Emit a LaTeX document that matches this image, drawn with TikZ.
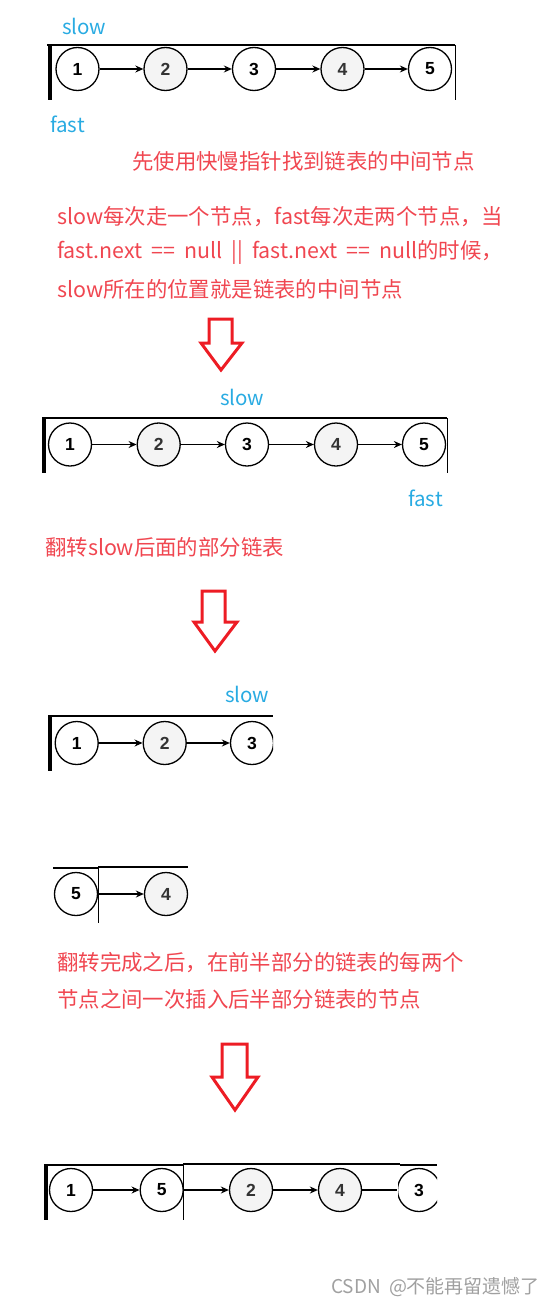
\documentclass[tikz,border=0pt]{standalone}
\usepackage{fontspec}
\setmainfont[WordSpace=1.9]{Noto Sans CJK SC}
\newfontfamily\numfont{Liberation Sans}
\usetikzlibrary{arrows.meta}
\definecolor{slowblue}{HTML}{29ABE2}
\definecolor{notered}{HTML}{F04650}
\definecolor{arrowred}{HTML}{ED1C24}
\definecolor{nodegray}{HTML}{F4F4F4}
\definecolor{marktext}{HTML}{A0A0A0}
\begin{document}
\begin{tikzpicture}[x=1pt,y=-1pt,
  lnode/.style={circle, draw=black, line width=1.3pt, minimum size=43pt, inner sep=0pt,
    font=\numfont\bfseries\fontsize{17.5}{17.5}\selectfont, fill=white},
  gnode/.style={lnode, fill=nodegray, text=black!80},
  link/.style={-{Stealth[length=8pt,width=7pt]}, line width=1.2pt},
  plainlink/.style={line width=1.2pt},
  frameline/.style={line width=1.6pt},
  thinline/.style={line width=0.9pt},
  barline/.style={line width=4pt},
  ptr/.style={text=slowblue, font=\fontsize{20.5}{20.5}\selectfont, inner sep=0pt, anchor=west},
  note/.style={text=notered, font=\fontsize{21.4}{21.4}\selectfont, inner sep=0pt, anchor=west},
  bigarrow/.style={draw=arrowred, line width=3pt, line join=miter},
  wmark/.style={text=marktext, font=\fontsize{19}{19}\selectfont, inner sep=0pt, anchor=west}
]
\useasboundingbox (0,0) rectangle (554,1306);

% ---------- Row 1 ----------
\node[ptr] (slowA) at (62,26) {slow};
\draw[frameline] (47,45) -- (455,45);
\draw[barline] (50,45) -- (50,100);
\draw[thinline] (455,45) -- (455,100);
\node[lnode] (a1) at (77.5,69) {1};
\node[gnode] (a2) at (165.5,69) {2};
\node[lnode] (a3) at (254,69) {3};
\node[gnode] (a4) at (342.5,69) {4};
\node[lnode] (a5) at (430,69) {5};
\draw[link] (a1) -- (a2);
\draw[link] (a2) -- (a3);
\draw[link] (a3) -- (a4);
\draw[link] (a4) -- (a5);
\node[ptr] (fastA) at (50,124) {fast};

\node[note] (t1) at (132,161) {先使用快慢指针找到链表的中间节点};
\node[note] (t2) at (57,216.5) {slow每次走一个节点，fast每次走两个节点，当};
\node[note] (t3) at (57,252.5) {fast.next == null || fast.next == null的时候，};
\node[note] (t4) at (57,289) {slow所在的位置就是链表的中间节点};

\draw[bigarrow] (209,319) -- (232,319) -- (232,343) -- (242,343) -- (221,370)
  -- (201,343) -- (209,343) -- cycle;

% ---------- Row 2 ----------
\node[ptr] (slowB) at (220,397) {slow};
\draw[frameline] (42,418) -- (447,418);
\draw[barline] (44,418) -- (44,473);
\draw[thinline] (447,418) -- (447,473);
\node[lnode] (b1) at (70,444.5) {1};
\node[gnode] (b2) at (158.7,444.5) {2};
\node[lnode] (b3) at (247,444.5) {3};
\node[gnode] (b4) at (336,444.5) {4};
\node[lnode] (b5) at (424,444.5) {5};
\draw[link] (b1) -- (b2);
\draw[link] (b2) -- (b3);
\draw[link] (b3) -- (b4);
\draw[link] (b4) -- (b5);
\node[ptr] (fastB) at (408,498) {fast};

\node[note] (t5) at (45,547) {翻转slow后面的部分链表};

\draw[bigarrow] (202,591) -- (225,591) -- (225,622) -- (237,622) -- (215,651)
  -- (194,622) -- (202,622) -- cycle;

% ---------- Row 3 ----------
\node[ptr] (slowC) at (225,694) {slow};
\draw[frameline] (48,716) -- (273,716);
\draw[barline] (50,716) -- (50,771);
\node[lnode] (c1) at (76.7,743) {1};
\node[gnode] (c2) at (164.7,743) {2};
\begin{scope}
  \clip (200,700) rectangle (273,790);
  \node[lnode] (c3) at (252,743) {3};
\end{scope}
\draw[link] (c1) -- (c2);
\draw[link] (c2) -- (c3);

% ---------- Row 4 ----------
\draw[frameline] (53,868) -- (98,868);
\draw[frameline] (98,867) -- (188,867);
\node[lnode] (d5) at (76,894) {5};
\begin{scope}
  \clip (120,850) rectangle (188,940);
  \node[gnode] (d4) at (166,894) {4};
\end{scope}
\draw[thinline] (98,867) -- (98,923);
\draw[link] (d5) -- (d4);

\node[note] (t6) at (57,962.5) {翻转完成之后，在前半部分的链表的每两个};
\node[note] (t7) at (57,999) {节点之间一次插入后半部分链表的节点};

\draw[bigarrow] (222,1044) -- (247,1044) -- (247,1077) -- (258,1077) -- (235,1110)
  -- (212,1077) -- (222,1077) -- cycle;

% ---------- Row 5 ----------
\draw[frameline] (44,1165) -- (183,1165);
\draw[frameline] (183,1164) -- (400,1164);
\draw[frameline] (400,1165) -- (437,1165);
\draw[barline] (46,1165) -- (46,1220);
\node[lnode] (e1) at (71,1190) {1};
\begin{scope}
  \clip (130,1150) rectangle (183,1230);
  \node[lnode] (e5) at (161.7,1190) {5};
\end{scope}
\node[gnode] (e2) at (251,1190) {2};
\node[gnode] (e4) at (340,1190) {4};
\begin{scope}
  \clip (398,1150) rectangle (437,1230);
  \node[lnode] (e3) at (419,1190) {3};
\end{scope}
\draw[thinline] (183,1164) -- (183,1220);
\draw[link] (e1) -- (e5);
\draw[link] (e5) -- (e2);
\draw[link] (e2) -- (e4);
\draw[plainlink] (e4) -- (e3);

\node[wmark] (wm) at (331,1287) {CSDN @不能再留遗憾了};
\end{tikzpicture}
\end{document}
